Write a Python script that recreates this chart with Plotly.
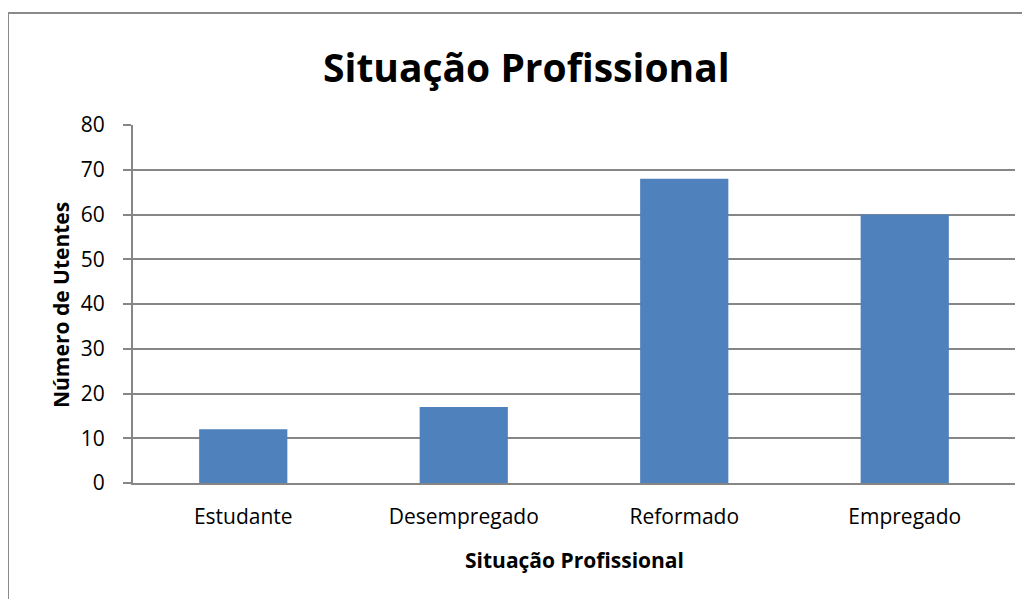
import plotly.graph_objects as go

categories = ["Estudante", "Desempregado", "Reformado", "Empregado"]
values = [12, 17, 68, 60]
y_ticks = [0, 10, 20, 30, 40, 50, 60, 70, 80]

# page has an 8px body margin; compensate so the plot lands where the reference has it
OFF = 8
W, H = 1030, 599
L = 133 - OFF
T = 125 - OFF
R = W + OFF - 1015
B = H + OFF - 483
pw = W - L - R
ph = H - T - B

def px_x(p):  # page px -> paper x
    return (p - OFF - L) / pw

def px_y(p):  # page px -> paper y
    return (H - B - (p - OFF)) / ph

FONT = "Open Sans, Liberation Sans, sans-serif"
GRID = "#868686"

fig = go.Figure(go.Bar(x=categories, y=values, marker=dict(color="#4F81BD", line=dict(width=0))))

fig.update_layout(
    width=W, height=H,
    margin=dict(l=L, r=R, t=T, b=B),
    paper_bgcolor="white", plot_bgcolor="white",
    bargap=0.6,
    showlegend=False,
    font=dict(family=FONT, color="black"),
    xaxis=dict(showline=True, linecolor=GRID, linewidth=2, ticks="",
               tickfont=dict(size=21), showgrid=False, ticklabelstandoff=14),
    yaxis=dict(range=[0, 80], tickvals=y_ticks, showgrid=True, gridcolor=GRID, gridwidth=2,
               showline=True, linecolor=GRID, linewidth=2, ticks="outside", ticklen=8,
               tickcolor=GRID, tickwidth=2, tickfont=dict(size=21), zeroline=False,
               ticklabelstandoff=14),
    annotations=[
        dict(text="<b>Situação Profissional</b>", xref="paper", yref="paper",
             x=px_x(526), y=px_y(67), xanchor="center", yanchor="middle",
             showarrow=False, font=dict(size=39, color="black")),
        dict(text="<b>Número de Utentes</b>", xref="paper", yref="paper",
             x=px_x(61), y=px_y(305), xanchor="center", yanchor="middle", textangle=-90,
             showarrow=False, font=dict(size=21, color="black")),
        dict(text="<b>Situação Profissional</b>", xref="paper", yref="paper",
             x=px_x(574), y=px_y(560), xanchor="center", yanchor="middle",
             showarrow=False, font=dict(size=21, color="black")),
    ],
    shapes=[
        dict(type="line", xref="paper", yref="paper", x0=px_x(8), x1=px_x(8), y0=px_y(620), y1=px_y(13),
             line=dict(color="#8a8a8a", width=2)),
        dict(type="line", xref="paper", yref="paper", x0=px_x(8), x1=px_x(1040), y0=px_y(13), y1=px_y(13),
             line=dict(color="#8a8a8a", width=2)),
    ],
)

fig.write_html("out.html")
